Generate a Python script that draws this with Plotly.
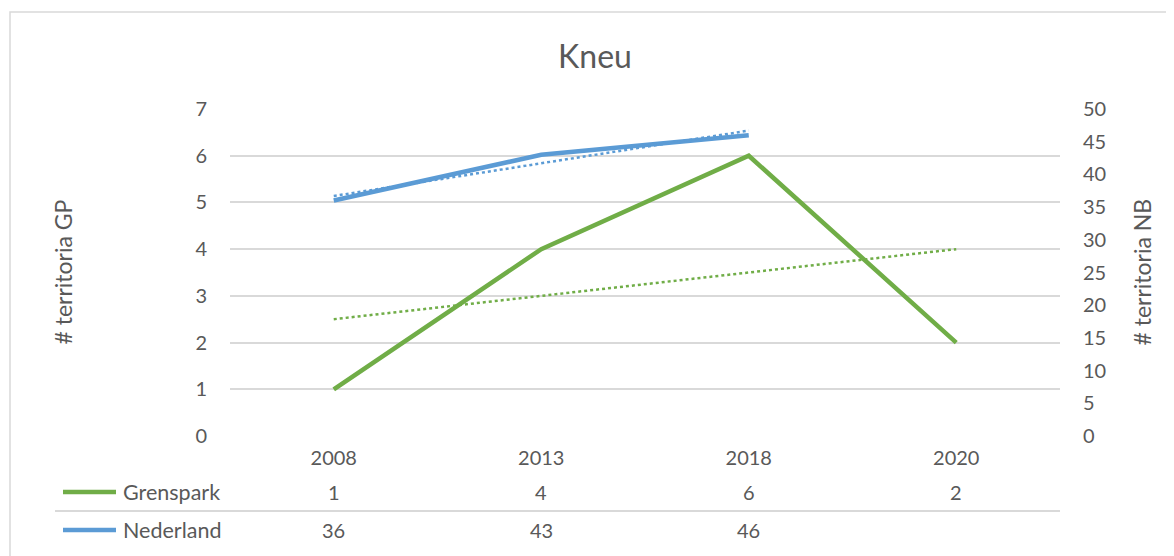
import plotly.graph_objects as go

# data
years = ["2008", "2013", "2018", "2020"]
grenspark = [1, 4, 6, 2]
nederland = [36, 43, 46, None]
trend_gp_x = ["2008", "2020"]
trend_gp_y = [2.5, 4.0]
trend_nb_x = ["2008", "2018"]
trend_nb_y = [36.7, 46.7]
gp_ticks = list(range(0, 8))
nb_ticks = list(range(0, 55, 5))

GREEN = "#70AD47"
BLUE = "#5B9BD5"
TXT = "#595959"
GRID = "#D9D9D9"
FONT = "Lato"

OFF = 8                      # page body margin
W, H = 1174 - OFF, 556 - OFF
L, R, T, B = 230 - OFF, 1060 - OFF, 109 - OFF, 436 - OFF   # plot area (figure px)
pw, ph = R - L, B - T


def px(x):
    # screen x -> paper
    return (x - OFF - L) / pw


def py(y):
    # screen y -> paper
    return (B - (y - OFF)) / ph


fig = go.Figure()
fig.add_trace(go.Scatter(x=years, y=grenspark, mode="lines", name="Grenspark",
                         line=dict(color=GREEN, width=4.5)))
fig.add_trace(go.Scatter(x=years, y=nederland, mode="lines", name="Nederland",
                         line=dict(color=BLUE, width=4.5), yaxis="y2"))
fig.add_trace(go.Scatter(x=trend_gp_x, y=trend_gp_y, mode="lines",
                         line=dict(color=GREEN, width=2.5, dash="dot")))
fig.add_trace(go.Scatter(x=trend_nb_x, y=trend_nb_y, mode="lines", yaxis="y2",
                         line=dict(color=BLUE, width=2.5, dash="dot")))

fig.update_layout(
    width=W, height=H,
    margin=dict(l=L, r=W - R, t=T, b=H - B),
    paper_bgcolor="white", plot_bgcolor="white",
    showlegend=False,
    font=dict(family=FONT, color=TXT, size=20),
    title=dict(text="Kneu", x=(595 - OFF) / W, xref="container", xanchor="center",
               y=1 - (57 - OFF) / H, yref="container", yanchor="middle",
               font=dict(size=32, color=TXT, family=FONT)),
    xaxis=dict(type="category", categoryorder="array", categoryarray=years,
               range=[-0.5, 3.5], showgrid=False, showline=False, zeroline=False,
               ticks="", ticklabelstandoff=8, tickfont=dict(size=20, color=TXT)),
    yaxis=dict(range=[0, 7], tickvals=gp_ticks, showgrid=True, gridcolor=GRID,
               gridwidth=1.5, zeroline=True, zerolinecolor="white", zerolinewidth=3,
               showline=False, ticks="", ticklabelstandoff=22,
               tickfont=dict(size=20, color=TXT)),
    yaxis2=dict(range=[0, 50], tickvals=nb_ticks, overlaying="y", side="right",
                showgrid=False, zeroline=False, showline=False, ticks="",
                ticklabelstandoff=22, tickfont=dict(size=20, color=TXT)),
)

# axis titles
fig.add_annotation(text="# territoria GP", x=px(62), y=0.5, xref="paper", yref="paper",
                   xanchor="center", yanchor="middle", textangle=-90, showarrow=False,
                   font=dict(size=23, color=TXT))
fig.add_annotation(text="# territoria NB", x=px(1141), y=0.5, xref="paper", yref="paper",
                   xanchor="center", yanchor="middle", textangle=-90, showarrow=False,
                   font=dict(size=23, color=TXT))

# data table under the chart
rows = [("Grenspark", grenspark, GREEN, 492), ("Nederland", nederland, BLUE, 530)]
for name, vals, col, ypix in rows:
    fig.add_shape(type="line", xref="paper", yref="paper",
                  x0=px(63), x1=px(116), y0=py(ypix), y1=py(ypix),
                  line=dict(color=col, width=4.5))
    fig.add_annotation(text=name, x=px(121), y=py(ypix), xref="paper", yref="paper",
                       xanchor="left", yanchor="middle", showarrow=False,
                       font=dict(size=21.5, color=TXT))
    for i, v in enumerate(vals):
        if v is None:
            continue
        fig.add_annotation(text=str(v), x=i, y=py(ypix), xref="x", yref="paper",
                           xanchor="center", yanchor="middle", showarrow=False,
                           font=dict(size=20, color=TXT))

fig.add_shape(type="line", xref="paper", yref="paper", x0=px(55), x1=1.0,
              y0=py(511), y1=py(511), line=dict(color=GRID, width=2))

# chart border
fig.add_shape(type="rect", xref="paper", yref="paper", x0=px(10), x1=px(1190),
              y0=py(580), y1=py(12), line=dict(color=GRID, width=1.5), layer="below")

fig.write_html("out.html")
